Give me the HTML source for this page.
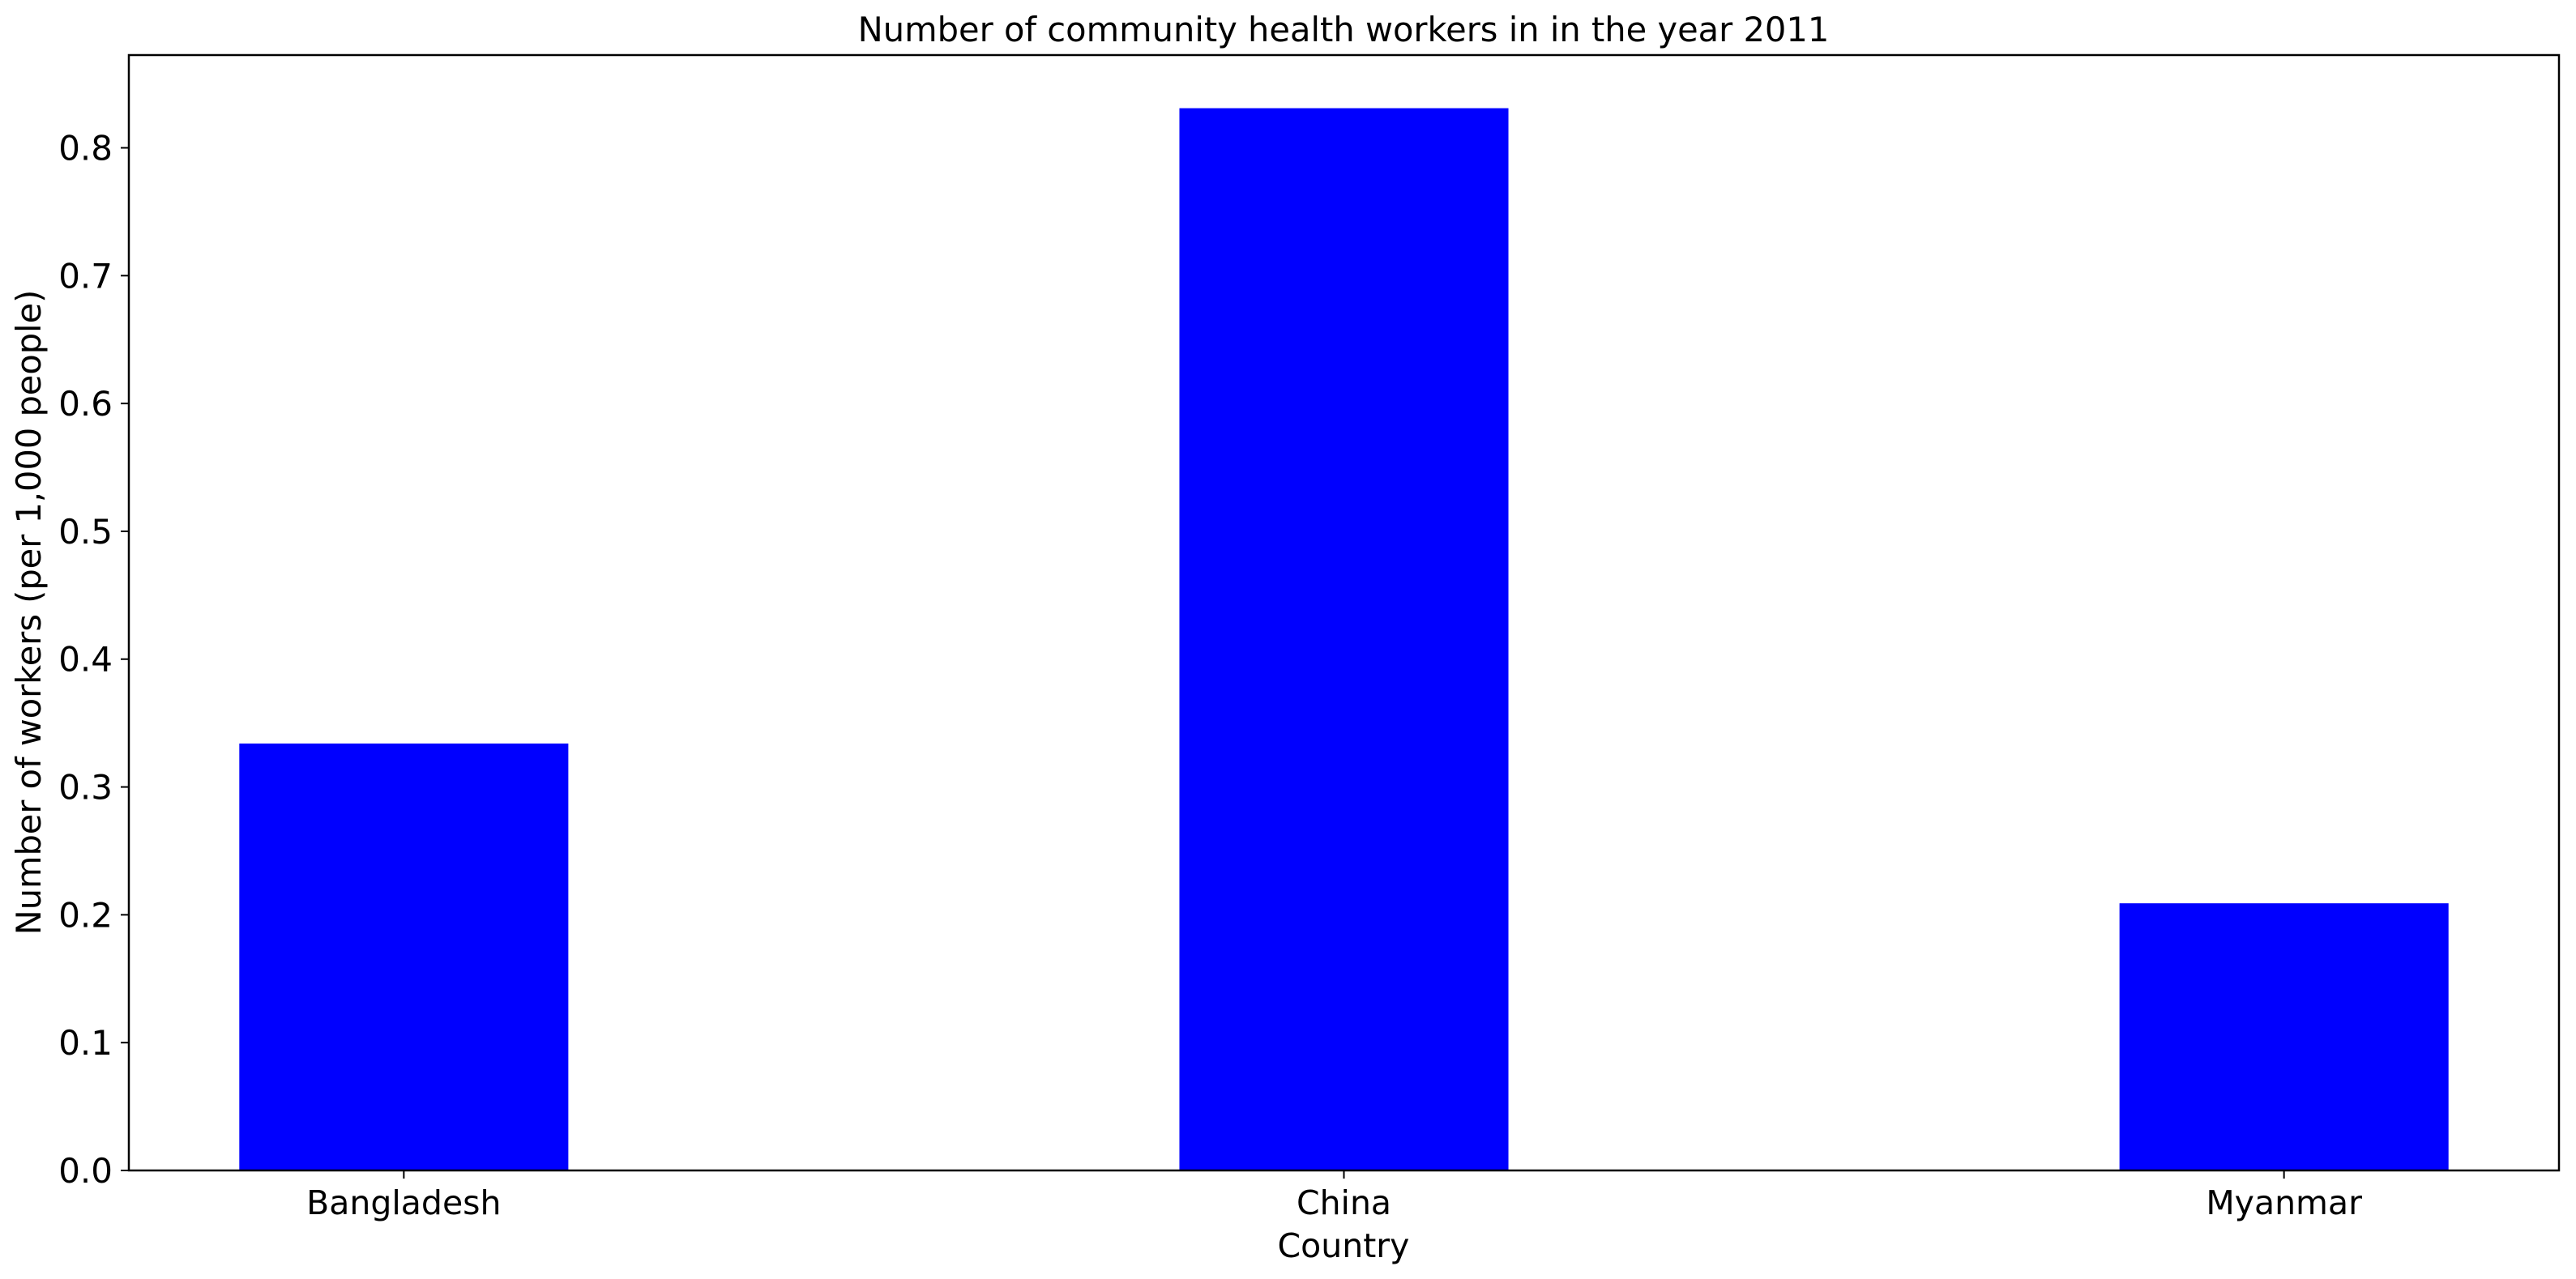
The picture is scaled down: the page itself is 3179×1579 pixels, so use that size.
<!DOCTYPE html>
<html><head><meta charset="utf-8"><style>
html,body{margin:0;padding:0;background:#fff;}
svg{display:block;font-family:"DejaVu Sans","Liberation Sans",sans-serif;}
</style></head><body>
<svg id="chart" width="3179" height="1579" viewBox="0 0 3179 1579">
<rect width="3179" height="1579" fill="#fff"/>
<text x="1658" y="51" font-size="41.6" text-anchor="middle">Number of community health workers in in the year 2011</text>
<g id="bars"></g>
<g id="yticks"></g>
<g id="xticks"></g>
<rect x="159" y="68" width="2999" height="1377" fill="none" stroke="#000" stroke-width="2.5"/>
<text x="1658" y="1552" font-size="41" text-anchor="middle">Country</text>
<text transform="translate(50,756) rotate(-90)" font-size="41.5" text-anchor="middle">Number of workers (per 1,000 people)</text>
</svg>
<script>
const categories = ["Bangladesh", "China", "Myanmar"];
const values = [0.334, 0.831, 0.209];
const yTicks = [0.0, 0.1, 0.2, 0.3, 0.4, 0.5, 0.6, 0.7, 0.8];
const yTickLabels = ["0.0", "0.1", "0.2", "0.3", "0.4", "0.5", "0.6", "0.7", "0.8"];

const NS = "http://www.w3.org/2000/svg";
const L = 159, R = 3158, T = 68, B = 1445;
const barW = 0.35;
const xMin = -barW/2 - (categories.length - 1 + barW) * 0.05;
const xMax = categories.length - 1 + barW/2 + (categories.length - 1 + barW) * 0.05;
const yMax = Math.max(...values) * 1.05;
function xs(v){ return L + (v - xMin) / (xMax - xMin) * (R - L); }
function ys(v){ return B - v / yMax * (B - T); }

const gb = document.getElementById('bars');
values.forEach((v, i) => {
  const r = document.createElementNS(NS, 'rect');
  r.setAttribute('x', xs(i - barW/2));
  r.setAttribute('width', xs(i + barW/2) - xs(i - barW/2));
  r.setAttribute('y', ys(v));
  r.setAttribute('height', ys(0) - ys(v));
  r.setAttribute('fill', '#0000ff');
  
  
  gb.appendChild(r);
});

const gy = document.getElementById('yticks');
yTicks.forEach((t, i) => {
  const y = ys(t);
  const ln = document.createElementNS(NS, 'line');
  ln.setAttribute('x1', L - 10); ln.setAttribute('x2', L);
  ln.setAttribute('y1', y); ln.setAttribute('y2', y);
  ln.setAttribute('stroke', '#000'); ln.setAttribute('stroke-width', '2');
  
  
  gy.appendChild(ln);
  const tx = document.createElementNS(NS, 'text');
  tx.setAttribute('x', L - 20); tx.setAttribute('y', y + 15);
  tx.setAttribute('font-size', '42'); tx.setAttribute('text-anchor', 'end');
  tx.textContent = yTickLabels[i];
  
  
  gy.appendChild(tx);
});

const gx = document.getElementById('xticks');
categories.forEach((c, i) => {
  const x = xs(i);
  const ln = document.createElementNS(NS, 'line');
  ln.setAttribute('x1', x); ln.setAttribute('x2', x);
  ln.setAttribute('y1', B); ln.setAttribute('y2', B + 10);
  ln.setAttribute('stroke', '#000'); ln.setAttribute('stroke-width', '2');
  
  
  gx.appendChild(ln);
  const tx = document.createElementNS(NS, 'text');
  tx.setAttribute('x', x); tx.setAttribute('y', B + 54);
  tx.setAttribute('font-size', '41'); tx.setAttribute('text-anchor', 'middle');
  tx.textContent = c;
  
  
  gx.appendChild(tx);
});
</script>
</body></html>
